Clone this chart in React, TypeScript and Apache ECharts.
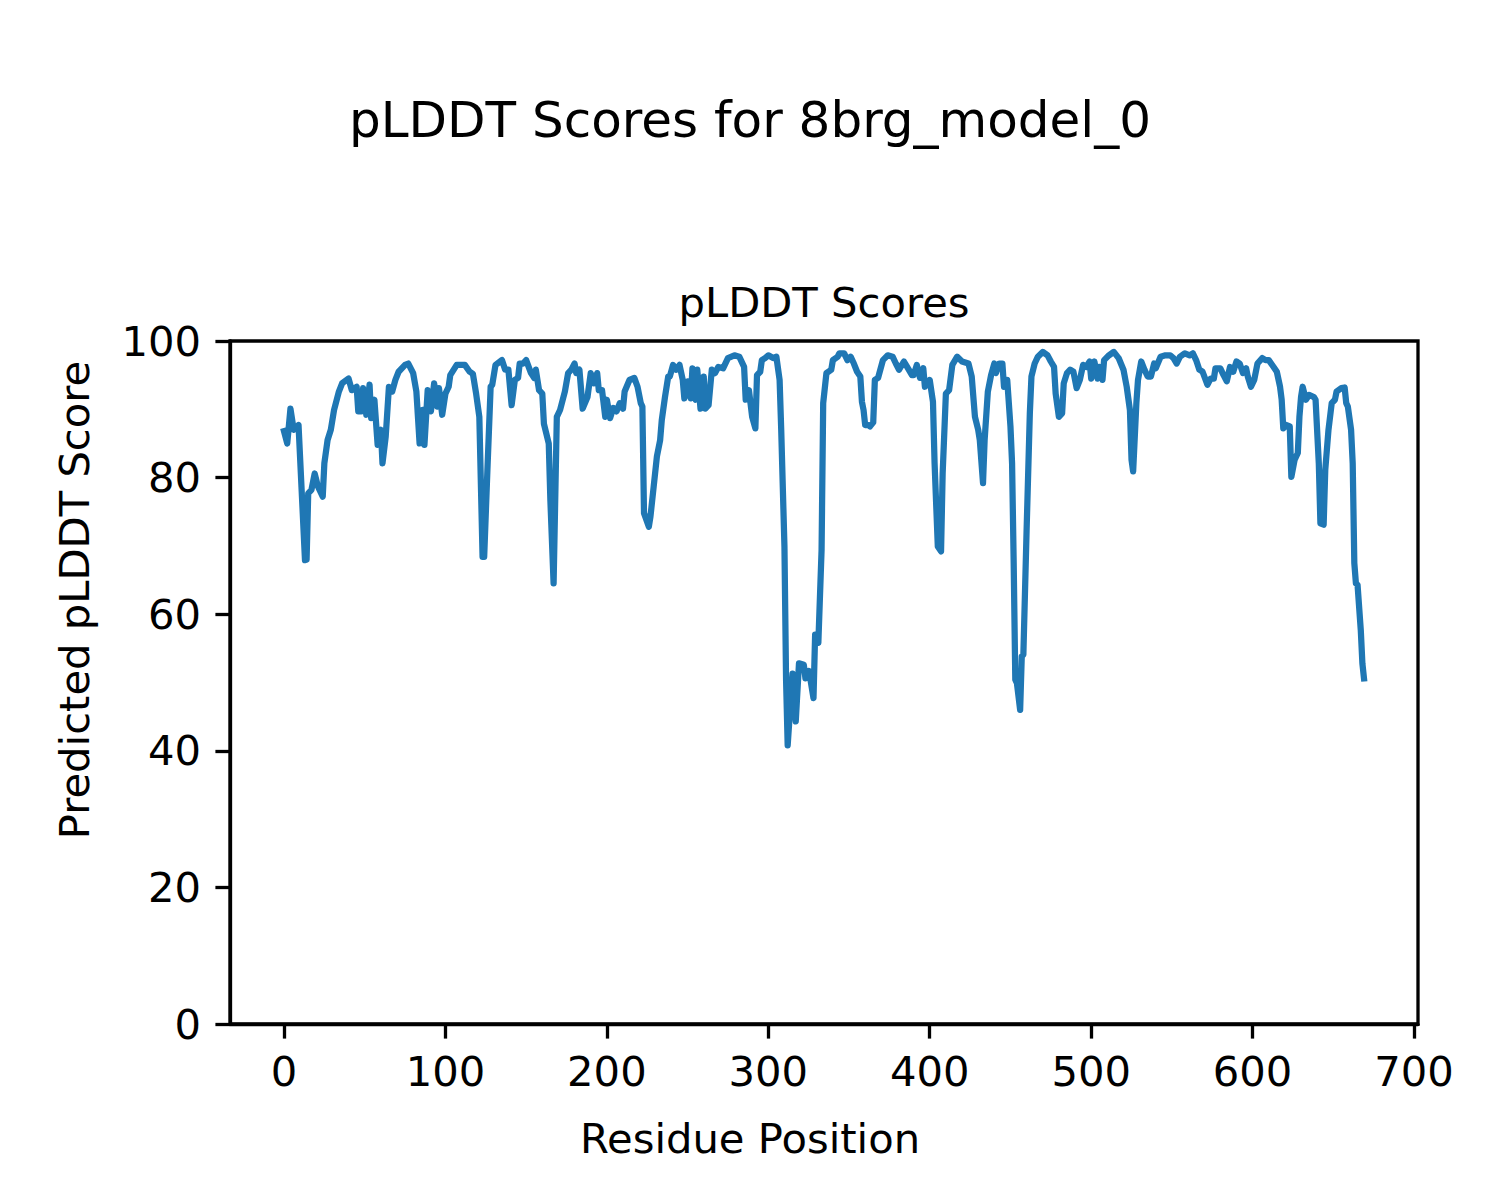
import React, { useEffect, useRef } from "react";
import * as echarts from "echarts";

// Residue positions and pLDDT scores (by region)
const residuesA = [0, 2, 4, 6, 9, 13, 14, 15, 17, 19,
  21, 24, 25, 27, 29, 31, 34, 36, 40, 42,
  45, 46, 48, 49, 51, 53, 54, 56, 58, 60,
  61, 63, 65, 67, 69, 71, 75, 77, 80, 82,
  84, 86, 87, 89, 91, 93, 95, 96, 98, 100,
  102, 103, 107, 112];
const scoresA = [86.8, 85.0, 90.1, 87.0, 87.7, 67.9, 68.0, 77.7, 78.2, 80.6,
  78.7, 77.2, 82.1, 85.5, 87.0, 89.9, 92.6, 93.8, 94.5, 92.8,
  93.3, 89.7, 89.7, 93.1, 89.2, 93.6, 88.7, 91.4, 84.8, 87.0,
  82.1, 86.0, 93.3, 92.6, 94.3, 95.5, 96.5, 96.7, 95.3, 92.6,
  85.0, 89.9, 84.8, 92.8, 89.7, 93.8, 90.4, 93.1, 89.2, 92.3,
  93.3, 95.0, 96.5, 96.5];

const residuesB = [115, 117, 119, 121, 123, 124, 126, 128, 129, 131,
  135, 137, 139, 141, 143, 145, 146, 148, 150, 153,
  155, 156, 158, 160, 161, 164, 165, 167, 169, 171,
  174, 176, 178, 180, 181, 183, 185, 188, 190, 192,
  194, 195, 197, 199, 200, 202, 204, 206, 208, 210,
  211, 214, 217, 219, 221, 222, 223, 226, 227];
const scoresB = [95.5, 95.2, 92.3, 88.9, 68.4, 68.4, 81.1, 93.3, 93.6, 96.5,
  97.2, 95.8, 95.8, 90.6, 94.3, 94.6, 96.7, 96.7, 97.2, 95.3,
  94.6, 95.8, 92.8, 92.3, 87.9, 85.0, 76.7, 64.5, 88.9, 89.9,
  92.6, 95.3, 95.8, 96.7, 95.3, 95.8, 90.1, 91.8, 95.3, 93.8,
  95.3, 92.8, 92.8, 88.9, 91.4, 88.7, 90.2, 89.7, 90.9, 90.1,
  92.6, 94.3, 94.6, 93.3, 90.9, 90.4, 74.8, 72.8, 74.3];

const residuesC = [229, 231, 233, 234, 236, 238, 239, 241, 243, 245,
  247, 248, 250, 252, 253, 255, 256, 258, 260, 261,
  263, 265, 267, 269, 272, 275, 279, 282, 285, 286,
  288, 290, 292, 293, 295, 296, 298, 300, 303, 305,
  307, 308, 310, 311, 312, 314, 315, 317, 319, 322,
  323, 325, 326, 328, 329, 331, 333, 334, 336, 339,
  340, 343, 344];
const scoresC = [78.7, 83.1, 85.5, 88.4, 91.8, 94.8, 94.8, 96.5, 95.8, 96.5,
  94.3, 91.6, 94.1, 91.6, 96.0, 91.4, 95.8, 90.1, 94.8, 90.1,
  90.6, 95.8, 95.3, 96.2, 96.0, 97.5, 97.9, 97.7, 96.2, 91.4,
  92.8, 88.9, 87.2, 95.0, 95.5, 97.2, 97.5, 97.9, 97.5, 97.7,
  94.3, 87.0, 69.9, 50.4, 40.8, 47.9, 51.3, 44.3, 52.8, 52.6,
  50.6, 51.7, 50.6, 47.7, 57.0, 55.8, 69.4, 90.9, 95.3, 95.8,
  97.2, 97.7, 98.2];

const residuesD = [347, 349, 351, 353, 355, 357, 358, 359, 360, 362,
  363, 365, 366, 368, 371, 374, 377, 379, 381, 384,
  386, 389, 390, 392, 394, 396, 397, 400, 402, 403,
  405, 407, 408, 410, 412, 414, 417, 420, 424, 426,
  428, 430, 431, 433, 434, 436, 438, 440, 441, 443,
  445, 446, 448, 450, 451, 452, 453, 454, 456, 457,
  458, 460, 462, 463, 465];
const scoresD = [98.2, 97.2, 97.7, 96.7, 95.5, 94.8, 91.1, 89.9, 87.7, 87.7,
  87.5, 88.1, 94.3, 94.6, 97.2, 97.9, 97.7, 96.7, 95.8, 97.0,
  96.2, 95.0, 95.0, 96.5, 94.6, 96.0, 93.3, 94.3, 91.1, 82.1,
  69.9, 69.2, 80.6, 92.3, 92.8, 96.5, 97.7, 97.0, 96.7, 94.8,
  88.9, 87.0, 85.5, 79.2, 85.5, 92.6, 95.0, 96.7, 95.3, 96.7,
  96.7, 93.3, 94.3, 87.5, 82.1, 67.5, 50.4, 49.9, 46.0, 53.8,
  54.1, 72.3, 89.4, 94.8, 96.7];

const residuesE = [467, 470, 473, 475, 477, 478, 480, 482, 483, 485,
  487, 489, 491, 493, 495, 497, 499, 500, 502, 504,
  505, 507, 508, 511, 514, 517, 520, 522, 524, 525,
  526, 528, 529, 531, 533, 535, 537, 539, 540, 543,
  546, 549, 551, 553, 555, 558, 561, 563, 565, 567,
  569, 572, 574, 576, 577, 580];
const scoresE = [97.7, 98.4, 97.9, 97.0, 96.2, 92.3, 88.9, 89.4, 93.8, 95.3,
  95.8, 95.5, 93.1, 94.3, 96.5, 96.2, 97.0, 94.5, 97.0, 94.5,
  96.2, 94.3, 97.2, 97.9, 98.4, 97.5, 95.8, 93.3, 89.9, 82.6,
  80.9, 90.9, 94.3, 97.0, 95.8, 94.8, 94.8, 96.7, 96.0, 97.7,
  97.9, 97.9, 97.5, 96.7, 97.7, 98.2, 97.9, 98.2, 97.2, 95.8,
  95.5, 93.6, 94.5, 94.5, 96.0, 96.0];

const residuesF = [582, 584, 586, 588, 590, 592, 594, 596, 597, 599,
  601, 603, 606, 608, 610, 613, 615, 617, 618, 619,
  621, 623, 624, 626, 628, 629, 630, 631, 633, 635,
  638, 639, 641, 642, 644, 645, 647, 649, 651, 652,
  655, 657, 658, 659, 661, 662, 663, 664, 665, 667,
  668, 669];
const scoresF = [95.0, 94.1, 96.2, 95.5, 97.0, 96.7, 95.3, 96.0, 94.8, 93.3,
  94.3, 96.7, 97.5, 97.2, 97.2, 96.2, 95.5, 93.3, 91.4, 87.2,
  87.7, 87.5, 80.1, 82.6, 83.6, 88.9, 91.8, 93.3, 91.4, 92.1,
  91.8, 91.4, 82.1, 73.3, 73.1, 81.1, 87.0, 90.9, 91.4, 92.6,
  93.1, 93.2, 90.9, 90.4, 87.0, 82.1, 67.5, 64.5, 64.3, 57.7,
  52.8, 50.6];

const xTicks = [0, 100, 200, 300, 400, 500, 600, 700];
const yTicks = [0, 20, 40, 60, 80, 100];

const figureTitle = "pLDDT Scores for 8brg_model_0";
const axesTitle = "pLDDT Scores";
const xLabel = "Residue Position";
const yLabel = "Predicted pLDDT Score";

const residues = [...residuesA, ...residuesB, ...residuesC, ...residuesD, ...residuesE, ...residuesF];
const scores = [...scoresA, ...scoresB, ...scoresC, ...scoresD, ...scoresE, ...scoresF];

const FONT = "DejaVu Sans";

export default function App() {
  const ref = useRef<HTMLDivElement>(null);
  useEffect(() => {
    if (!ref.current) return;
    const chart = echarts.init(ref.current, null, { renderer: "svg" });
    const data = residues.map((r, i) => [r, scores[i]]);
    chart.setOption({
      animation: false,
      backgroundColor: "#ffffff",
      textStyle: { fontFamily: FONT },
      grid: {
        left: 230,
        top: 341,
        width: 1188,
        height: 683,
        show: true,
        borderColor: "#000",
        borderWidth: 3.3,
        backgroundColor: "transparent",
        containLabel: false,
      },
      xAxis: {
        type: "value",
        min: -33.45,
        max: 702.45,
        splitLine: { show: false },
        axisLine: { show: true, onZero: false, lineStyle: { color: "#000", width: 3.3 } },
        axisTick: { show: true, length: 14.6, lineStyle: { color: "#000", width: 3.3 }, customValues: xTicks },
        axisLabel: { customValues: xTicks, margin: 26, fontSize: 41.7, color: "#000", fontFamily: FONT },
      },
      yAxis: {
        type: "value",
        min: 0,
        max: 100,
        interval: 20,
        splitLine: { show: false },
        axisLine: { show: true, onZero: false, lineStyle: { color: "#000", width: 3.3 } },
        axisTick: { show: true, length: 14.6, lineStyle: { color: "#000", width: 3.3 }, customValues: yTicks },
        axisLabel: { customValues: yTicks, margin: 29, fontSize: 41.7, color: "#000", fontFamily: FONT },
      },
      series: [
        {
          type: "line",
          data,
          showSymbol: false,
          symbol: "none",
          silent: true,
          lineStyle: { color: "#1f77b4", width: 6.25, cap: "square", join: "round" },
          itemStyle: { color: "#1f77b4" },
        },
      ],
      graphic: [
        {
          type: "text",
          x: 750,
          y: 120,
          style: { text: figureTitle, fontSize: 50, fontFamily: FONT, fill: "#000", align: "center", verticalAlign: "middle" },
        },
        {
          type: "text",
          x: 824,
          y: 302,
          style: { text: axesTitle, fontSize: 41.7, fontFamily: FONT, fill: "#000", align: "center", verticalAlign: "middle" },
        },
        {
          type: "text",
          x: 750,
          y: 1138,
          style: { text: xLabel, fontSize: 41.7, fontFamily: FONT, fill: "#000", align: "center", verticalAlign: "middle" },
        },
        {
          type: "text",
          x: 74,
          y: 600,
          rotation: Math.PI / 2,
          style: { text: yLabel, fontSize: 41.7, fontFamily: FONT, fill: "#000", align: "center", verticalAlign: "middle" },
        },
      ],
    });
    return () => chart.dispose();
  }, []);
  return (
    <div
      ref={ref}
      style={{ position: "absolute", left: 0, top: 0, width: 1500, height: 1200, background: "#fff" }}
    />
  );
}
